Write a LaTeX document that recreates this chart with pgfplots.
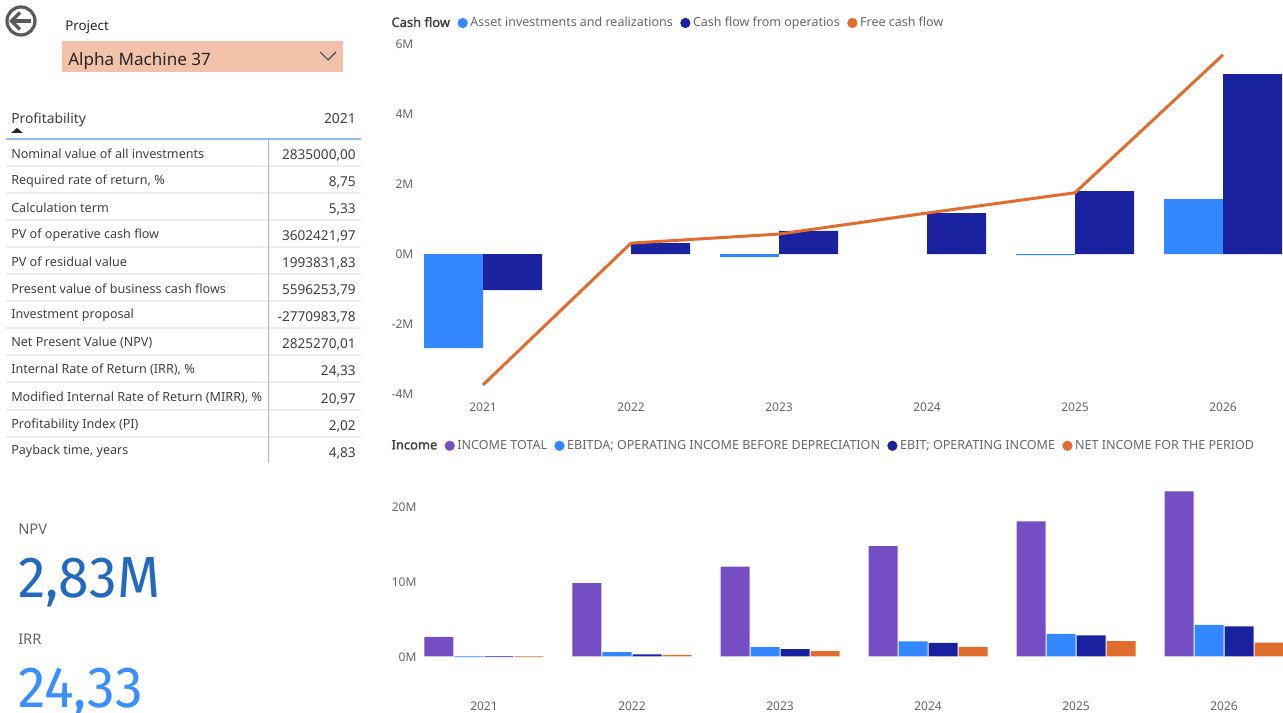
\documentclass[border=0pt]{standalone}
\usepackage{fontspec}
\setmainfont{Noto Sans}
\newfontfamily\din{Fira Sans}[FakeStretch=0.955]
\newfontfamily\titlef{Noto Sans}[FakeBold=1.6]
\usepackage{pgfplots}
\pgfplotsset{compat=1.18}
\definecolor{cA}{HTML}{3388FF}
\definecolor{cB}{HTML}{1A22A0}
\definecolor{cC}{HTML}{E06C2E}
\definecolor{cP}{HTML}{744EC2}
\definecolor{txt}{HTML}{404040}
\definecolor{grey}{HTML}{666666}
\definecolor{sep}{HTML}{EDEDED}
\definecolor{blueline}{HTML}{8DBBF2}
\definecolor{slicer}{HTML}{F2C1A9}
\definecolor{npvc}{HTML}{2469BE}
\definecolor{irrc}{HTML}{3A8EFF}
\newcommand{\fs}[1]{\fontsize{#1}{#1}\selectfont}
\pgfplotsset{
 dotkey/.style={legend image code/.code={\fill[#1] (2pt,0) circle (3.6pt);}},
 base/.style={
  scale only axis, axis line style={draw=none}, major tick length=0pt,
  xtick={0,1,2,3,4,5}, xticklabels={2021,2022,2023,2024,2025,2026},
  tick label style={font=\fs{9}, text=grey},
  legend style={draw=none, fill=none, inner sep=0pt, anchor=west, font=\fs{9.35}, text=grey,
   legend columns=-1, /tikz/every odd column/.append style={column sep=0pt}},
 },
}
\begin{document}
\begin{tikzpicture}
\useasboundingbox (0,0) rectangle (962.25pt,-534.75pt);
\begin{axis}[base, at={(313.5pt,-295.5pt)}, anchor=south west, width=648.75pt, height=262.5pt,
  xmin=-0.4392, xmax=5.4054, ymin=-4, ymax=6,
  xticklabel style={yshift=-3pt}, yticklabel style={yshift=-.2pt},
  ytick={-4,-2,0,2,4,6}, yticklabels={-4M,-2M,0M,2M,4M,6M},
  legend style={at={(axis description cs:-0.0340,1.0600)},
   /tikz/every even column/.append style={column sep=3.7pt}}]
\addlegendimage{empty legend}\addlegendentry{\color{txt}\fs{9.7}\titlef Cash flow\hspace{1pt}}
\addlegendimage{dotkey=cA}\addlegendentry{Asset investments and realizations}
\addlegendimage{dotkey=cB}\addlegendentry{Cash flow from operatios}
\addlegendimage{dotkey=cC}\addlegendentry{Free cash flow}
\addplot[forget plot, ybar, bar width=44.25pt, bar shift=-22.125pt, fill=cA, draw=none] coordinates {(0,-2.69) (2,-0.09) (4,-0.03) (5,1.57)};
\addplot[forget plot, ybar, bar width=44.25pt, bar shift=22.125pt, fill=cB, draw=none] coordinates {(0,-1.03) (1,0.31) (2,0.66) (3,1.17) (4,1.8) (5,5.14)};
\addplot[forget plot, sharp plot, cC, line width=2.25pt] coordinates {(0,-3.74) (1,0.31) (2,0.57) (3,1.17) (4,1.75) (5,5.69)};
\end{axis}
\begin{axis}[base, at={(313.5pt,-520.5pt)}, anchor=south west, width=648.75pt, height=160.5pt,
  xmin=-0.4459, xmax=5.3986, ymin=-5, ymax=23.53,
  xticklabel style={yshift=-2.4pt}, yticklabel style={yshift=-.2pt, xshift=2.4pt},
  ytick={0,10,20}, yticklabels={0M,10M,20M},
  legend style={at={(axis description cs:-0.0340,1.1600)}, font=\fs{9.4},
   /tikz/every even column/.append style={column sep=3.5pt}}]
\addlegendimage{empty legend}\addlegendentry{\color{txt}\fs{9.7}\titlef Income}
\addlegendimage{dotkey=cP}\addlegendentry{INCOME TOTAL}
\addlegendimage{dotkey=cA}\addlegendentry{EBITDA; OPERATING INCOME BEFORE DEPRECIATION}
\addlegendimage{dotkey=cB}\addlegendentry{EBIT; OPERATING INCOME}
\addlegendimage{dotkey=cC}\addlegendentry{NET INCOME FOR THE PERIOD}
\addplot[forget plot, ybar, bar width=21.75pt, bar shift=-33.75pt, fill=cP, draw=none] coordinates {(0,2.6) (1,9.78) (2,11.99) (3,14.7) (4,18.0) (5,22.0)};
\addplot[forget plot, ybar, bar width=21.75pt, bar shift=-11.25pt, fill=cA, draw=none] coordinates {(0,-0.1) (1,0.58) (2,1.24) (3,2.0) (4,3.0) (5,4.2)};
\addplot[forget plot, ybar, bar width=21.75pt, bar shift=11.25pt, fill=cB, draw=none] coordinates {(0,-0.1) (1,0.27) (2,0.97) (3,1.81) (4,2.83) (5,4.03)};
\addplot[forget plot, ybar, bar width=21.75pt, bar shift=33.75pt, fill=cC, draw=none] coordinates {(0,-0.1) (1,0.22) (2,0.71) (3,1.28) (4,2.04) (5,1.86)};
\end{axis}
\begin{scope}[x=.75pt,y=-.75pt]
% back icon
\draw[line width=2.4pt, color=black!65] (21,21) circle (14);
\draw[line width=2.4pt, color=black!65] (12,21) -- (31,21);
\draw[line width=2.4pt, color=black!65] (20,12.5) -- (11.5,21) -- (20,29.5);
% slicer
\node[anchor=west, inner sep=0pt, font=\fs{10}, text=black!85] at (65,27) {Project};
\fill[slicer] (62,41) rectangle (343,72);
\node[anchor=west, inner sep=0pt, font=\fs{12.8}, text=black!85] at (68,61) {Alpha Machine 37};
\draw[line width=.8pt, color=black!70] (320,52) -- (328,60) -- (336,52);
% table
\node[anchor=west, inner sep=0pt, font=\fs{10.4}, text=txt] at (11,120) {Profitability};
\node[anchor=east, inner sep=0pt, font=\fs{10.4}, text=txt] at (356,119) {2021};
\fill[black!85] (11,133) -- (17,128) -- (23,133) -- cycle;
\foreach \y in {166,193,220,247,274,301,328,355,382,410,437} \draw[sep, line width=.8pt] (6,\y) -- (361,\y);
\draw[blueline, line width=1pt] (6,139) -- (361,139);
\draw[blueline, line width=1.4pt] (268.5,139) -- (268.5,463);
\foreach \y/\l/\v in {
 153/Nominal value of all investments/{2835000,00},
 180/{Required rate of return, \%}/{8,75},
 207/Calculation term/{5,33},
 234/PV of operative cash flow/{3602421,97},
 261/PV of residual value/{1993831,83},
 288/Present value of business cash flows/{5596253,79},
 315/Investment proposal/{-2770983,78},
 342/Net Present Value (NPV)/{2825270,01},
 369/{Internal Rate of Return (IRR), \%}/{24,33},
 397/{Modified Internal Rate of Return (MIRR), \%}/{20,97},
 424/Profitability Index (PI)/{2,02},
 451/{Payback time, years}/{4,83}}{
 \node[anchor=west, inner sep=0pt, font=\fs{9.45}, text=txt] at (11,\y+0.7) {\l};
 \node[anchor=east, inner sep=0pt, font=\fs{10.2}, text=txt] at (356,\y+2) {\v};
}
% cards
\node[anchor=west, inner sep=0pt, font=\fs{11}, text=grey] at (18,529) {NPV};
\node[anchor=base west, inner sep=0pt, font=\din\fs{43.5}, text=npvc] at (18,597) {2,83M};
\node[anchor=west, inner sep=0pt, font=\fs{11}, text=grey] at (18,639) {IRR};
\node[anchor=base west, inner sep=0pt, font=\din\fs{43.5}, text=irrc] at (18,707) {24,33};
\end{scope}
\end{tikzpicture}
\end{document}
